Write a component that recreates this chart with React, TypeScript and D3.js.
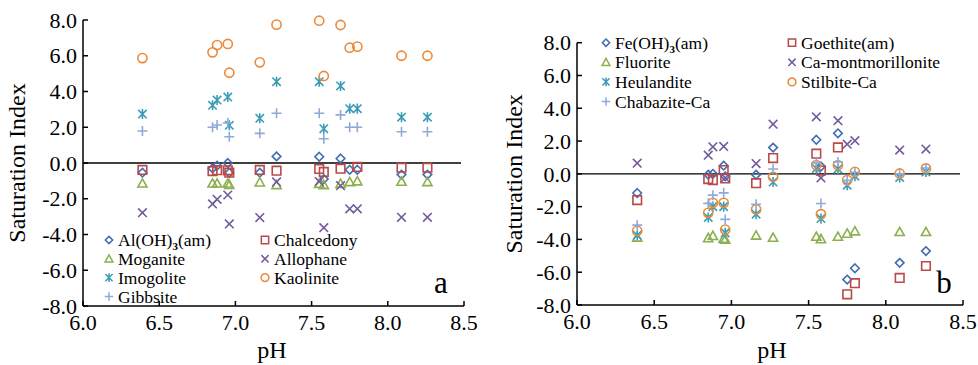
import React from "react";
import * as d3 from "d3";

const pH = [6.39, 6.85, 6.88, 6.95, 6.96, 7.16, 7.27, 7.55, 7.58, 7.69, 7.75, 7.8, 8.09, 8.26];

// Panel a
const alOH3 = [-0.54, -0.3, -0.15, 0.0, -0.55, -0.54, 0.37, 0.35, -0.9, 0.25, -0.38, -0.38, -0.65, -0.65];
const chalcedony = [-0.39, -0.45, -0.4, -0.41, -0.54, -0.39, -0.43, -0.33, -0.5, -0.32, null, -0.22, -0.26, -0.26];
const moganite = [-1.14, -1.14, -1.14, -1.14, -1.22, -1.08, -1.23, -1.16, -1.23, -1.16, -1.06, -1.02, -1.04, -1.06];
const allophane = [-2.78, -2.29, -2.03, -1.79, -3.41, -3.05, -1.06, -1.04, -3.62, -1.27, -2.56, -2.56, -3.04, -3.04];
const imogolite = [2.74, 3.23, 3.52, 3.69, 2.11, 2.5, 4.55, 4.55, 1.92, 4.31, 3.04, 3.04, 2.56, 2.56];
const kaolinite = [5.87, 6.19, 6.6, 6.66, 5.05, 5.63, 7.74, 7.96, 4.87, 7.72, 6.45, 6.51, 6.0, 6.0];
const gibbsite = [1.79, 2.0, 2.13, 2.24, 1.47, 1.66, 2.78, 2.78, 1.36, 2.69, 2.0, 2.0, 1.75, 1.75];

// Panel b
const feOH3 = [-1.17, -0.05, 0.0, 0.5, -0.15, -0.05, 1.6, 2.08, 0.45, 2.47, -6.45, -5.76, -5.43, -4.71];
const goethite = [-1.6, -0.32, -0.38, 0.23, -0.28, -0.57, 0.96, 1.23, 0.2, 1.61, -7.35, -6.67, -6.35, -5.62];
const fluorite = [-3.88, -3.92, -3.78, -3.95, -4.0, -3.76, -3.89, -3.83, -3.98, -3.83, -3.64, -3.5, -3.54, -3.54];
const caMont = [0.65, 1.14, 1.65, 1.67, -0.25, 0.63, 3.03, 3.48, -0.25, 3.24, 1.81, 2.02, 1.45, 1.51];
const heulandite = [-3.75, -2.66, -2.0, -2.0, -3.6, -2.46, -0.5, 0.33, -2.73, 0.3, -0.69, -0.14, -0.22, 0.12];
const stilbite = [-3.48, -2.38, -1.77, -1.77, -3.4, -2.17, -0.18, 0.53, -2.46, 0.53, -0.38, 0.12, 0.02, 0.33];
const chabazite = [-3.13, -1.8, -1.3, -1.16, -2.78, -1.85, 0.3, 0.67, -1.81, 0.73, -0.4, 0.1, 0.0, 0.36];

const xTicks = [6.0, 6.5, 7.0, 7.5, 8.0, 8.5];
const yTicks = [-8, -6, -4, -2, 0, 2, 4, 6, 8];

const C = {
  blue: "#3f6db3",
  red: "#b94a48",
  green: "#8caf4f",
  purple: "#735a9c",
  teal: "#3a9db5",
  orange: "#ec8a3a",
  light: "#8eaad8",
};

type Shape = "diamond" | "square" | "triangle" | "x" | "star" | "circle" | "plus";

function markerPath(shape: Shape, s = 1): string {
  const p = d3.path();
  if (shape === "diamond") {
    const h = 4.3 * s;
    p.moveTo(0, -h); p.lineTo(h, 0); p.lineTo(0, h); p.lineTo(-h, 0); p.closePath();
  } else if (shape === "square") {
    const h = 4.3 * s;
    p.rect(-h, -h, 2 * h, 2 * h);
  } else if (shape === "triangle") {
    const h = 4.6 * s;
    p.moveTo(0, -h); p.lineTo(h, h * 0.8); p.lineTo(-h, h * 0.8); p.closePath();
  } else if (shape === "x") {
    const h = 4.3 * s;
    p.moveTo(-h, -h); p.lineTo(h, h); p.moveTo(h, -h); p.lineTo(-h, h);
  } else if (shape === "star") {
    const h = 4.2 * s;
    p.moveTo(-h, -h); p.lineTo(h, h); p.moveTo(h, -h); p.lineTo(-h, h);
    p.moveTo(0, -h * 1.2); p.lineTo(0, h * 1.2);
  } else if (shape === "plus") {
    const h = 5 * s;
    p.moveTo(-h, 0); p.lineTo(h, 0); p.moveTo(0, -h); p.lineTo(0, h);
  } else if (shape === "circle") {
    const r = 4.6 * s;
    p.arc(0, 0, r, 0, Math.PI * 2);
  }
  return p.toString();
}

type Series = { name: string; sub?: [string, string, string]; values: (number | null)[]; shape: Shape; color: string };

const FONT = "'Liberation Serif', 'Times New Roman', Times, serif";

function Panel(props: {
  x0: number; x1: number; y0: number; y1: number; series: Series[];
  legend: { x: number; y: number; dx: number; dy: number };
  label: string; labelPos: [number, number]; yTitleOffset: number; xTitleX: number;
}) {
  const { x0, x1, y0, y1, series, legend, label, labelPos, yTitleOffset, xTitleX } = props;
  const x = d3.scaleLinear().domain([6, 8.5]).range([x0, x1]);
  const y = d3.scaleLinear().domain([-8, 8]).range([y0, y1]);
  const fmt = (v: number) => v.toFixed(1);
  return (
    <g fill="#000">
      <line x1={x0} x2={x1 - 3} y1={y(0)} y2={y(0)} stroke="#000" strokeWidth={1.3} />
      <line x1={x0} x2={x0} y1={y0} y2={y1} stroke="#000" strokeWidth={1.5} />
      <line x1={x0} x2={x1} y1={y0} y2={y0} stroke="#000" strokeWidth={1.5} />
      {yTicks.map((t) => (
        <g key={"y" + t}>
          <line x1={x0} x2={x0 + 5} y1={y(t)} y2={y(t)} stroke="#000" strokeWidth={1.5} />
          <text x={x0 - 6} y={y(t)} dy="0.35em" textAnchor="end" fontSize={22}>{fmt(t)}</text>
        </g>
      ))}
      {xTicks.map((t) => (
        <g key={"x" + t}>
          <line x1={x(t)} x2={x(t)} y1={y0} y2={y0 - 5} stroke="#000" strokeWidth={1.5} />
          <text x={x(t)} y={y0 + 24} textAnchor="middle" fontSize={22}>{fmt(t)}</text>
        </g>
      ))}
      <text x={xTitleX} y={358} textAnchor="middle" fontSize={24}>pH</text>
      <text transform={`translate(${x0 - yTitleOffset},${(y0 + y1) / 2}) rotate(-90)`} textAnchor="middle" fontSize={24} dy="0.35em">Saturation Index</text>
      {series.map((s, si) => (
        <g key={"s" + si}>
          {s.values.map((v, i) =>
            v === null ? null : (
              <path key={i} d={markerPath(s.shape)} transform={`translate(${x(pH[i])},${y(v)})`}
                fill="none" stroke={s.color} strokeWidth={1.6} />
            )
          )}
        </g>
      ))}
      {series.map((s, si) => {
        const col = si % 2;
        const row = Math.floor(si / 2);
        const lx = legend.x + col * legend.dx;
        const ly = legend.y + row * legend.dy;
        return (
          <g key={"l" + si}>
            <path d={markerPath(s.shape, 0.85)} transform={`translate(${lx},${ly})`} fill="none" stroke={s.color} strokeWidth={1.5} />
            <text x={lx + 9} y={ly} dy="0.35em" fontSize={17.5}>
              {s.sub ? (
                <>
                  {s.sub[0]}
                  <tspan fontSize={11} dy={4} fontWeight="bold">{s.sub[1]}</tspan>
                  <tspan dy={-4}>{s.sub[2]}</tspan>
                </>
              ) : s.name}
            </text>
          </g>
        );
      })}
      <text x={labelPos[0]} y={labelPos[1]} textAnchor="middle" fontSize={31}>{label}</text>
    </g>
  );
}

export default function App() {
  const seriesA: Series[] = [
    { name: "Al(OH)3(am)", sub: ["Al(OH)", "3", "(am)"], values: alOH3, shape: "diamond", color: C.blue },
    { name: "Chalcedony", values: chalcedony, shape: "square", color: C.red },
    { name: "Moganite", values: moganite, shape: "triangle", color: C.green },
    { name: "Allophane", values: allophane, shape: "x", color: C.purple },
    { name: "Imogolite", values: imogolite, shape: "star", color: C.teal },
    { name: "Kaolinite", values: kaolinite, shape: "circle", color: C.orange },
    { name: "Gibbsite", values: gibbsite, shape: "plus", color: C.light },
  ];
  const seriesB: Series[] = [
    { name: "Fe(OH)3(am)", sub: ["Fe(OH)", "3", "(am)"], values: feOH3, shape: "diamond", color: C.blue },
    { name: "Goethite(am)", values: goethite, shape: "square", color: C.red },
    { name: "Fluorite", values: fluorite, shape: "triangle", color: C.green },
    { name: "Ca-montmorillonite", values: caMont, shape: "x", color: C.purple },
    { name: "Heulandite", values: heulandite, shape: "star", color: C.teal },
    { name: "Stilbite-Ca", values: stilbite, shape: "circle", color: C.orange },
    { name: "Chabazite-Ca", values: chabazite, shape: "plus", color: C.light },
  ];
  return (
    <svg width={978} height={365} fontFamily={FONT}
      style={{ position: "absolute", left: 0, top: 0, background: "#fff", fontFamily: FONT }}>
      <Panel x0={83} x1={464} y0={306} y1={20} series={seriesA}
        legend={{ x: 109, y: 240, dx: 156, dy: 18.8 }} label="a" labelPos={[441, 293]}
        yTitleOffset={66} xTitleX={272} />
      <Panel x0={577} x1={963} y0={305} y1={42.7} series={seriesB}
        legend={{ x: 606, y: 42.7, dx: 186, dy: 19.6 }} label="b" labelPos={[944, 293]}
        yTitleOffset={63.5} xTitleX={772} />
    </svg>
  );
}
